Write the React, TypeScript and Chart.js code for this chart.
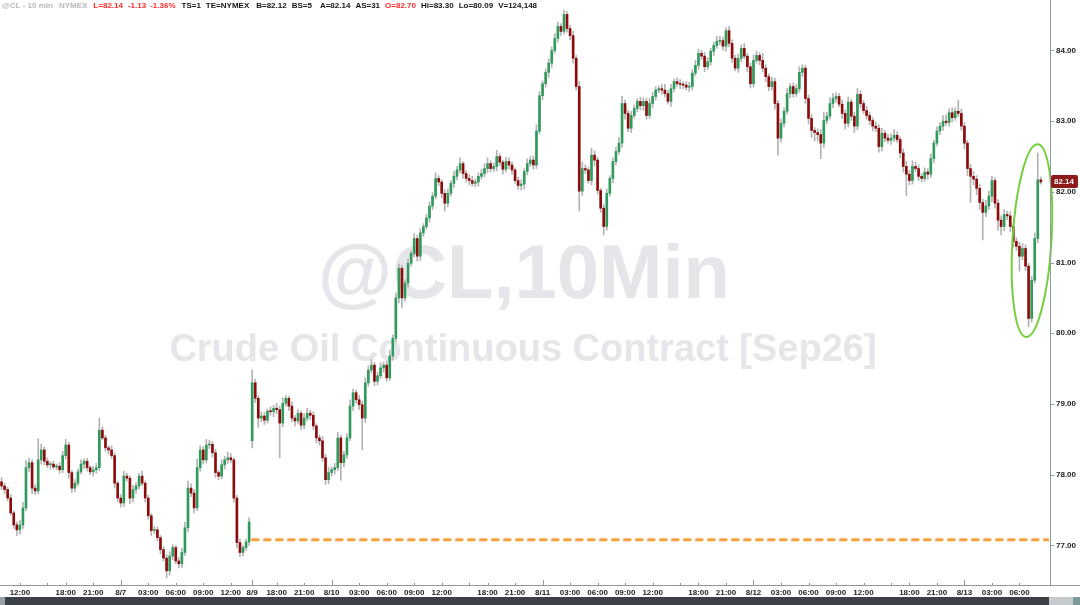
import React, { useEffect, useRef } from 'react';
import { Chart, registerables } from 'chart.js';

Chart.register(...registerables);

// 20-minute candles (close prices)
const closes: number[] = [
  77.84,77.79,77.67,77.46,77.29,77.22,77.29,77.53,78.10,78.17,77.81,77.77,78.21,78.35,78.19,78.14,78.15,78.11,78.12,78.07,
  78.27,78.42,78.03,77.81,77.88,78.04,78.15,78.19,78.10,78.04,78.07,78.10,78.63,78.52,78.38,78.35,78.27,77.88,77.67,77.60,
  77.98,77.95,77.67,77.79,77.84,77.98,77.88,77.67,77.42,77.21,77.22,77.11,76.94,76.82,76.64,76.85,76.97,76.78,76.74,76.90,
  77.25,77.81,77.74,77.53,78.10,78.35,78.21,78.42,78.43,78.31,78.03,77.98,78.14,78.21,78.24,78.21,77.67,77.04,76.90,76.97,
  77.05,77.33,79.30,79.08,78.80,78.83,78.77,78.90,78.89,78.94,78.92,78.73,79.01,79.08,78.97,78.80,78.76,78.87,78.70,78.80,
  78.87,78.84,78.69,78.52,78.48,78.24,77.93,78.03,78.07,78.10,78.52,78.17,78.28,78.52,78.97,79.16,79.06,78.99,78.80,79.30,
  79.48,79.55,79.32,79.40,79.51,79.55,79.37,79.68,79.93,80.50,80.92,80.50,80.71,80.99,81.13,81.34,81.09,81.42,81.51,81.63,
  81.80,81.94,82.19,82.14,81.98,81.84,81.98,82.12,82.22,82.31,82.40,82.26,82.19,82.16,82.12,82.14,82.22,82.26,82.33,82.40,
  82.33,82.36,82.50,82.42,82.32,82.43,82.38,82.31,82.16,82.09,82.11,82.29,82.40,82.45,82.38,82.86,83.36,83.53,83.69,83.82,
  84.00,84.17,84.34,84.27,84.51,84.31,84.21,83.89,83.49,82.01,82.33,82.31,82.16,82.52,82.45,82.02,81.77,81.51,81.98,82.19,
  82.43,82.57,82.69,83.25,83.11,82.90,83.08,83.18,83.28,83.22,83.28,83.08,83.25,83.35,83.44,83.46,83.44,83.39,83.28,83.46,
  83.56,83.53,83.52,83.51,83.48,83.49,83.68,83.79,83.96,83.92,83.77,83.84,83.99,84.07,84.13,84.14,84.06,84.28,84.10,83.89,
  83.75,83.89,84.03,83.92,83.77,83.53,83.86,83.93,83.86,83.75,83.63,83.49,83.56,83.25,82.76,82.97,83.14,83.39,83.49,83.39,
  83.46,83.69,83.75,83.32,83.04,82.87,82.84,82.81,82.69,83.01,83.07,83.25,83.32,83.35,83.24,83.11,82.97,83.27,83.07,82.93,
  83.38,83.25,83.15,83.08,83.01,82.93,82.90,82.64,82.83,82.76,82.73,82.76,82.80,82.74,82.55,82.36,82.25,82.16,82.36,82.33,
  82.22,82.19,82.28,82.25,82.47,82.69,82.86,82.93,83.00,82.98,83.12,83.05,83.14,83.11,82.93,82.69,82.33,82.22,82.18,82.05,
  81.85,81.71,81.80,81.94,82.16,81.84,81.60,81.51,81.68,81.66,81.51,81.30,81.23,81.09,81.20,80.95,80.21,80.75,81.34,82.17,
  82.14,
];

// upper wick above body top, in cents
const hiExt: number[] = [
  6,4,3,5,3,4,6,8,10,6,4,5,30,8,4,5,3,4,3,5,
  6,8,4,3,5,4,6,3,4,3,5,6,17,5,4,3,6,4,3,5,
  7,4,3,6,5,4,7,3,4,3,5,4,3,4,5,6,4,3,5,6,
  8,10,6,5,12,6,5,8,6,4,5,3,7,5,8,6,3,4,5,3,
  4,6,18,5,4,6,5,3,6,4,7,5,8,4,3,6,4,5,3,6,
  7,4,5,3,4,6,5,7,4,6,8,4,5,6,9,5,4,6,5,7,
  6,8,4,5,7,4,6,8,5,7,6,4,5,6,4,7,5,6,4,5,
  6,5,8,4,3,5,6,4,7,5,8,3,4,5,6,4,5,6,7,8,
  4,5,9,4,3,6,5,4,3,5,6,4,7,5,6,9,6,4,5,6,
  5,7,6,4,6,4,5,6,4,7,9,5,4,10,6,4,3,5,6,4,
  5,6,8,10,5,4,6,5,4,6,5,4,7,6,5,4,6,8,5,6,
  4,5,6,4,5,6,5,7,6,4,5,6,4,5,7,6,5,4,6,5,
  4,6,5,7,4,5,8,6,4,10,5,4,6,5,4,6,5,7,4,5,
  6,8,5,4,5,6,4,5,7,12,6,8,7,5,4,6,5,7,4,6,
  8,5,4,6,5,4,6,5,7,4,5,6,8,5,4,6,7,5,8,6,
  5,4,6,5,7,4,6,5,8,9,6,7,5,16,6,5,4,6,7,5,
  6,5,8,7,6,4,5,6,7,5,6,4,5,6,7,5,4,6,8,38,
  4,
];

// lower wick below body bottom, in cents
const loExt: number[] = [
  5,6,4,3,5,8,6,5,4,6,8,5,4,6,5,4,6,3,4,5,
  4,5,8,6,5,4,3,6,5,4,6,5,4,3,5,6,4,7,5,6,
  5,4,8,6,5,4,3,6,5,7,4,5,6,4,10,6,5,4,6,5,
  4,6,5,7,4,5,6,4,5,6,7,5,4,6,5,4,6,8,6,5,
  4,5,10,6,13,5,6,4,5,7,6,49,5,4,6,5,7,4,6,5,
  4,6,5,7,6,5,7,6,5,6,4,25,6,5,4,6,5,7,45,6,
  5,4,6,5,4,6,5,4,6,5,7,14,5,6,4,5,7,6,5,4,
  6,5,4,5,6,11,5,4,6,5,4,7,5,6,4,5,6,4,5,6,
  5,4,6,5,7,4,5,6,4,5,6,7,5,4,6,5,4,6,5,7,
  6,4,5,6,4,5,6,7,5,28,6,5,4,6,8,5,6,12,5,4,
  6,5,4,6,8,5,6,4,5,6,7,5,4,6,5,4,6,5,4,7,
  5,4,6,5,4,6,5,4,6,5,7,4,5,6,4,5,6,7,5,6,
  4,6,5,4,7,6,5,4,6,5,7,6,5,8,24,6,5,4,6,5,
  4,5,6,7,8,10,12,9,22,6,5,4,6,5,4,7,8,5,6,9,
  5,6,4,5,6,7,5,8,6,5,4,6,5,4,7,8,30,6,5,4,
  6,5,4,7,5,6,4,5,6,4,5,6,4,5,6,8,10,37,8,9,
  10,39,6,5,8,7,14,12,6,5,7,8,6,21,5,6,12,5,4,6,
  3,
];

const firstOpen = 77.9;
const gapIndex = 82;      // Sunday session open
const gapOpen = 78.48;
const gapLevel = 77.08;   // dashed gap line
const lastPrice = 82.14;

const tickIdx: number[] = [6,15,21,30,39,48,57,66,75,82,90,99,108,117,126,135,144,153,159,168,177,186,195,204,213,222,228,237,246,255,264,273,282,291,297,306,315,324,333];
const tickText: string[] = ['12:00','','18:00','21:00','8/7','03:00','06:00','09:00','12:00','8/9','18:00','21:00','8/10','03:00','06:00','09:00','12:00','','18:00','21:00','8/11','03:00','06:00','09:00','12:00','','18:00','21:00','8/12','03:00','06:00','09:00','12:00','','18:00','21:00','8/13','03:00','06:00'];
const yTicks: number[] = [77, 78, 79, 80, 81, 82, 83, 84];

const headerText: string[] = ['@CL - 10 min','NYMEX','L=82.14','-1.13','-1.36%','TS=1','TE=NYMEX','B=82.12','BS=5','A=82.14','AS=31','O=82.70','Hi=83.30','Lo=80.09','V=124,148'];
const headerTone: string[] = ['gray','gray','red','red','red','black','black','black','black','black','black','red','black','black','black'];

const UP = '#2f9a5c';
const DOWN = '#8c0c0c';
const WICK = '#b3b3b3';
const AXIS = '#8c9d9d';
const FONT = '"Liberation Sans", Arial, sans-serif';

export default function App() {
  const ref = useRef<HTMLCanvasElement>(null);

  useEffect(() => {
    document.body.style.margin = '0';
    const canvas = ref.current;
    if (!canvas) return;

    const opens = closes.map((c, i) => (i === 0 ? firstOpen : i === gapIndex ? gapOpen : closes[i - 1]));
    const highs = closes.map((c, i) => Math.max(c, opens[i]) + (hiExt[i] ?? 4) / 100);
    const lows = closes.map((c, i) => Math.min(c, opens[i]) - (loExt[i] ?? 4) / 100);
    const bodyData = closes.map((c, i) => ({ x: i, y: [opens[i], c] }));
    const wickData = closes.map((c, i) => ({ x: i, y: [lows[i], highs[i]] }));

    const headerGap = [6, 6, 5, 4, 6, 5, 7, 5, 8, 5, 5, 5, 5, 5];
    const toneColor: Record<string, string> = { gray: '#b8b8b8', red: '#ff2b2b', black: '#151515' };

    const zeroPad = (s: any) => {
      s.paddingTop = 0;
      s.paddingBottom = 0;
      s.paddingLeft = 0;
      s.paddingRight = 0;
    };

    const decor = {
      id: 'decor',
      beforeDraw(chart: any) {
        const { ctx } = chart;
        ctx.save();
        ctx.fillStyle = '#ffffff';
        ctx.fillRect(0, 0, chart.width, chart.height);
        ctx.restore();
      },
      beforeDatasetsDraw(chart: any) {
        const { ctx } = chart;
        ctx.save();
        ctx.fillStyle = '#e5e6e9';
        ctx.textAlign = 'center';
        ctx.textBaseline = 'alphabetic';
        ctx.font = `bold 76px ${FONT}`;
        ctx.fillText('@CL,10Min', 524, 298);
        ctx.font = `bold 38px ${FONT}`;
        ctx.fillText('Crude Oil Continuous Contract [Sep26]', 523, 361);
        ctx.restore();
      },
      afterDatasetsDraw(chart: any) {
        const { ctx, scales, chartArea } = chart;
        const xs = scales.x, ys = scales.y;
        ctx.save();
        const gy = ys.getPixelForValue(gapLevel);
        ctx.strokeStyle = '#f7a13a';
        ctx.lineWidth = 3;
        ctx.setLineDash([8, 4]);
        ctx.beginPath();
        ctx.moveTo(xs.getPixelForValue(gapIndex - 0.3), gy);
        ctx.lineTo(chartArea.right - 1, gy);
        ctx.stroke();
        ctx.setLineDash([]);
        const cx = xs.getPixelForValue(337.1);
        const cy = ys.getPixelForValue(81.31);
        ctx.strokeStyle = '#74cf3c';
        ctx.lineWidth = 2;
        ctx.beginPath();
        ctx.ellipse(cx, cy, 19.5, 96.5, 0.06, 0, Math.PI * 2);
        ctx.stroke();
        ctx.restore();
      },
      afterDraw(chart: any) {
        const { ctx, scales, chartArea } = chart;
        const xs = scales.x, ys = scales.y;
        const W = chart.width;
        ctx.save();
        ctx.strokeStyle = AXIS;
        ctx.lineWidth = 1;
        ctx.beginPath();
        ctx.moveTo(0, chartArea.bottom + 0.5);
        ctx.lineTo(W, chartArea.bottom + 0.5);
        ctx.moveTo(chartArea.right + 0.5, 0);
        ctx.lineTo(chartArea.right + 0.5, chartArea.bottom);
        tickIdx.forEach((v, k) => {
          const px = Math.round(xs.getPixelForValue(v)) + 0.5;
          const isDate = tickText[k].includes('/');
          ctx.moveTo(px, chartArea.bottom);
          ctx.lineTo(px, chartArea.bottom - (isDate ? 5 : 2));
        });
        yTicks.forEach((v) => {
          const py = Math.round(ys.getPixelForValue(v)) + 0.5;
          ctx.moveTo(chartArea.right, py);
          ctx.lineTo(chartArea.right + 4, py);
        });
        ctx.stroke();

        const py = ys.getPixelForValue(lastPrice);
        ctx.fillStyle = '#8e1a1a';
        ctx.beginPath();
        ctx.roundRect(chartArea.right + 1, py - 7, 27, 13, 2);
        ctx.fill();
        ctx.fillStyle = '#ffffff';
        ctx.font = `bold 8px ${FONT}`;
        ctx.textAlign = 'left';
        ctx.textBaseline = 'middle';
        ctx.fillText(lastPrice.toFixed(2), chartArea.right + 4, py);

        ctx.font = `bold 8px ${FONT}`;
        ctx.textBaseline = 'middle';
        let hx = 2;
        headerText.forEach((t, k) => {
          ctx.fillStyle = toneColor[headerTone[k]];
          ctx.fillText(t, hx, 6);
          hx += ctx.measureText(t).width + (headerGap[k] ?? 5);
        });

        ctx.fillStyle = '#3c4147';
        ctx.fillRect(0, 597, W, 8);
        ctx.fillStyle = '#9aa4a8';
        ctx.fillRect(0, 597, 5, 8);
        ctx.fillStyle = '#c6cbd0';
        ctx.fillRect(1049, 597, 24, 8);
        ctx.fillStyle = '#7d9898';
        ctx.fillRect(1073, 597, 7, 8);
        ctx.restore();
      },
    };

    const chart = new Chart(canvas, {
      type: 'bar',
      data: {
        datasets: [
          {
            data: bodyData as any,
            backgroundColor: (c: any) => (closes[c.dataIndex] >= opens[c.dataIndex] ? UP : DOWN),
            barThickness: 2,
            minBarLength: 1,
            grouped: false,
            borderWidth: 0,
          },
          {
            data: wickData as any,
            backgroundColor: WICK,
            barThickness: 1,
            grouped: false,
            borderWidth: 0,
          },
        ],
      },
      options: {
        animation: false,
        responsive: false,
        devicePixelRatio: 1,
        layout: { padding: 0 },
        plugins: { legend: { display: false }, tooltip: { enabled: false } },
        scales: {
          x: {
            type: 'linear',
            min: -0.5,
            max: 343,
            offset: false,
            grid: { display: false, drawTicks: false },
            border: { display: false },
            afterBuildTicks: (s: any) => {
              s.ticks = tickIdx.map((v) => ({ value: v }));
            },
            afterFit: (s: any) => {
              s.height = 20;
              zeroPad(s);
            },
            ticks: {
              autoSkip: false,
              maxRotation: 0,
              minRotation: 0,
              padding: 3,
              color: '#1c1c1c',
              font: { family: FONT, size: 8, weight: 'bold' },
              callback: (v: any) => {
                const k = tickIdx.indexOf(Math.round(Number(v)));
                return k >= 0 ? tickText[k] : '';
              },
            },
          },
          y: {
            position: 'right',
            min: 76.44,
            max: 84.714,
            grid: { display: false, drawTicks: false },
            border: { display: false },
            afterBuildTicks: (s: any) => {
              s.ticks = yTicks.map((v) => ({ value: v }));
            },
            afterFit: (s: any) => {
              s.width = 30;
              zeroPad(s);
            },
            ticks: {
              padding: 6,
              color: '#1c1c1c',
              font: { family: FONT, size: 8, weight: 'bold' },
              callback: (v: any) => Number(v).toFixed(2),
            },
          },
        },
      } as any,
      plugins: [decor],
    });

    return () => chart.destroy();
  }, []);

  return <canvas ref={ref} width={1080} height={605} style={{ display: 'block' }} />;
}
